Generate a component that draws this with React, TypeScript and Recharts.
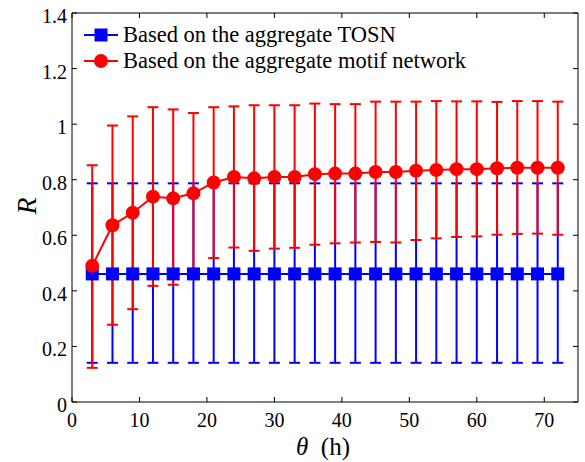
import React from 'react';
import { LineChart, Line, XAxis, YAxis, ErrorBar, ReferenceArea } from 'recharts';

// theta (hours) for each measurement
const theta = [3, 6, 9, 12, 15, 18, 21, 24, 27, 30, 33, 36, 39, 42, 45, 48, 51, 54, 57, 60, 63, 66, 69, 72];

// aggregate TOSN: mean and error-bar ends
const tosnMean = [0.461, 0.461, 0.461, 0.461, 0.461, 0.461, 0.461, 0.461, 0.461, 0.461, 0.461, 0.461, 0.461, 0.461, 0.461, 0.461, 0.461, 0.461, 0.461, 0.461, 0.461, 0.461, 0.461, 0.461];
const tosnLow = [0.141, 0.141, 0.141, 0.141, 0.141, 0.141, 0.141, 0.141, 0.141, 0.141, 0.141, 0.141, 0.141, 0.141, 0.141, 0.141, 0.141, 0.141, 0.141, 0.141, 0.141, 0.141, 0.141, 0.141];
const tosnHigh = [0.787, 0.787, 0.787, 0.787, 0.787, 0.787, 0.787, 0.787, 0.787, 0.787, 0.787, 0.787, 0.787, 0.787, 0.787, 0.787, 0.787, 0.787, 0.787, 0.787, 0.787, 0.787, 0.787, 0.787];

// aggregate motif network: mean and error-bar ends
const motifMean = [0.49, 0.636, 0.681, 0.739, 0.733, 0.751, 0.79, 0.81, 0.805, 0.81, 0.81, 0.82, 0.822, 0.822, 0.828, 0.828, 0.832, 0.835, 0.838, 0.838, 0.841, 0.843, 0.843, 0.843];
const motifLow = [0.123, 0.278, 0.334, 0.418, 0.422, 0.466, 0.518, 0.556, 0.544, 0.552, 0.555, 0.566, 0.571, 0.574, 0.576, 0.574, 0.583, 0.589, 0.594, 0.596, 0.602, 0.605, 0.606, 0.602];
const motifHigh = [0.852, 0.995, 1.028, 1.061, 1.053, 1.04, 1.061, 1.064, 1.068, 1.068, 1.068, 1.074, 1.072, 1.072, 1.081, 1.081, 1.081, 1.083, 1.082, 1.082, 1.08, 1.083, 1.083, 1.081];

const xTicks = [0, 10, 20, 30, 40, 50, 60, 70];
const yTicks = [0, 0.2, 0.4, 0.6, 0.8, 1, 1.2, 1.4];

const legendNames = ['Based on the aggregate TOSN', 'Based on the aggregate motif network'];

const data = theta.map((t, i) => ({
  theta: t,
  tosn: tosnMean[i],
  tosnErr: [tosnMean[i] - tosnLow[i], tosnHigh[i] - tosnMean[i]],
  motif: motifMean[i],
  motifErr: [motifMean[i] - motifLow[i], motifHigh[i] - motifMean[i]],
}));

const W = 585;
const H = 462;
const LEFT = 72;
const RIGHT = 578;
const TOP = 13;
const BOTTOM = 402;
const FONT = "'Liberation Serif', Tinos, 'Times New Roman', 'DejaVu Serif', serif";
const BLUE = '#0000ff';
const RED = '#ff0000';

const XTick = (props: any) => {
  const { x, payload } = props;
  return (
    <g>
      <line x1={x} x2={x} y1={BOTTOM} y2={BOTTOM - 5} stroke="#000" />
      <line x1={x} x2={x} y1={TOP} y2={TOP + 5} stroke="#000" />
      <text x={x} y={BOTTOM + 18} textAnchor="middle" dominantBaseline="central" style={{ fontFamily: FONT }} fontSize={20} fill="#000">
        {payload.value}
      </text>
    </g>
  );
};

const YTick = (props: any) => {
  const { y, payload } = props;
  return (
    <g>
      <line x1={LEFT} x2={LEFT + 5} y1={y} y2={y} stroke="#000" />
      <line x1={RIGHT} x2={RIGHT - 5} y1={y} y2={y} stroke="#000" />
      <text x={LEFT - 5} y={y + 3} textAnchor="end" dominantBaseline="central" style={{ fontFamily: FONT }} fontSize={20} fill="#000">
        {payload.value}
      </text>
    </g>
  );
};

const XTitle = (props: any) => {
  const vb = props.viewBox || { x: LEFT, width: RIGHT - LEFT };
  return (
    <text x={vb.x + vb.width / 2 - 2} y={455} textAnchor="middle" style={{ fontFamily: FONT, whiteSpace: 'pre' }} fontSize={25} fill="#000">
      <tspan fontStyle="italic">θ</tspan>
      <tspan>{'  (h)'}</tspan>
    </text>
  );
};

const YTitle = () => (
  <text x={26} y={206} transform="rotate(-90 26 206)" textAnchor="middle" dominantBaseline="central" style={{ fontFamily: FONT }} fontSize={28} fontStyle="italic" fill="#000">
    R
  </text>
);

const SquareDot = (props: any) => {
  const { cx, cy, index } = props;
  if (cx == null || cy == null) return null;
  return <rect key={'sq' + index} x={cx - 6.5} y={cy - 6.5} width={13} height={13} fill={BLUE} />;
};

const CircleDot = (props: any) => {
  const { cx, cy, index } = props;
  if (cx == null || cy == null) return null;
  return <circle key={'ci' + index} cx={cx} cy={cy} r={7} fill={RED} />;
};

const LegendBox = () => (
  <div style={{ position: 'absolute', left: 84, top: 22, fontFamily: FONT, fontSize: 22.5, color: '#000', lineHeight: '26px' }}>
    {legendNames.map((name, i) => (
      <div key={name} style={{ display: 'flex', alignItems: 'center', height: 26 }}>
        <svg width={36} height={20} style={{ marginRight: 3 }}>
          <line x1={0} x2={34} y1={10} y2={10} stroke={i === 0 ? BLUE : RED} strokeWidth={2} />
          {i === 0 ? <rect x={10.5} y={3.5} width={13} height={13} fill={BLUE} /> : <circle cx={17} cy={10} r={7} fill={RED} />}
        </svg>
        <span style={{ whiteSpace: 'nowrap' }}>{name}</span>
      </div>
    ))}
  </div>
);

export default function App() {
  return (
    <div style={{ position: 'absolute', left: 0, top: 0, width: W, height: H, background: '#fff' }}>
      <LineChart width={W} height={H} data={data} margin={{ top: TOP, right: W - RIGHT, left: 0, bottom: 0 }}>
        <XAxis
          dataKey="theta"
          type="number"
          domain={[0, 75]}
          ticks={xTicks}
          tick={<XTick />}
          tickLine={false}
          axisLine={false}
          tickSize={0}
          height={H - BOTTOM}
          label={<XTitle />}
        />
        <YAxis
          type="number"
          domain={[0, 1.4]}
          ticks={yTicks}
          tick={<YTick />}
          tickLine={false}
          axisLine={false}
          tickSize={0}
          width={LEFT}
          label={<YTitle />}
        />
        <ReferenceArea x1={0} x2={75} y1={0} y2={1.4} fill="none" stroke="#000" strokeWidth={1} />
        <Line dataKey="tosn" stroke={BLUE} strokeWidth={2} dot={<SquareDot />} isAnimationActive={false}>
          <ErrorBar dataKey="tosnErr" width={5.5} strokeWidth={2} stroke={BLUE} direction="y" />
        </Line>
        <Line dataKey="motif" stroke={RED} strokeWidth={2} dot={<CircleDot />} isAnimationActive={false}>
          <ErrorBar dataKey="motifErr" width={5.5} strokeWidth={2} stroke={RED} direction="y" />
        </Line>
      </LineChart>
      <LegendBox />
    </div>
  );
}
